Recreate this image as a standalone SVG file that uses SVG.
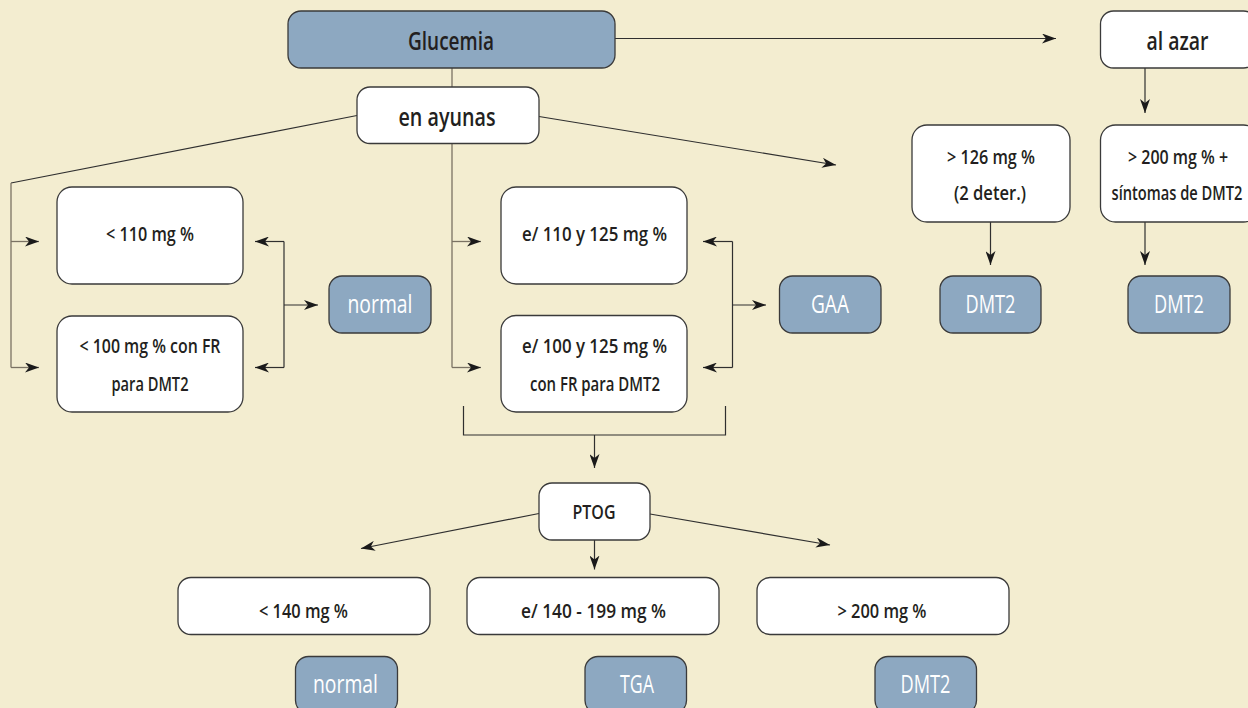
<svg xmlns="http://www.w3.org/2000/svg" width="1248" height="708" viewBox="0 0 1248 708">
<defs>
<style>
.bg{fill:#F3EDD0}
.wb{fill:#FFFFFF;stroke:#3a3a3a;stroke-width:1.3}
.bb{fill:#8DA8C1;stroke:#3a3a3a;stroke-width:1.3}
.t{font-family:"Open Sans","Liberation Sans",sans-serif;fill:#231F20;text-anchor:middle;font-weight:600}
.big{font-size:26px}
.sm{font-size:20px}
.wt{font-family:"Open Sans","Liberation Sans",sans-serif;fill:#FFFFFF;text-anchor:middle;font-size:25px}
.ln{fill:none;stroke:#2f2f2f;stroke-width:1.2}
.lg{fill:none;stroke:#7a7263;stroke-width:1.3}
.ar{marker-end:url(#ah)}
</style>
<marker id="ah" markerUnits="userSpaceOnUse" markerWidth="14" markerHeight="10" refX="14" refY="5" orient="auto">
<path d="M0,0 L14,5 L0,10 L4,5 z" fill="#1a1a1a"/>
</marker>
</defs>
<rect class="bg" x="0" y="0" width="1248" height="708"/>

<g id="connectors">
<line class="lg" x1="452" y1="68" x2="452" y2="87"/>
<line class="ln ar" x1="615" y1="38.5" x2="1056" y2="38.5"/>
<polyline class="ln" points="357,115.5 11,183"/>
<line class="lg" x1="11" y1="183" x2="11" y2="367.5"/>
<line class="lg ar" x1="11" y1="241.5" x2="39" y2="241.5"/>
<line class="lg ar" x1="11" y1="367.5" x2="39" y2="367.5"/>
<line class="ln ar" x1="539" y1="116.5" x2="836" y2="165"/>
<line class="lg" x1="452" y1="143" x2="452" y2="367.5"/>
<line class="lg ar" x1="452" y1="241.5" x2="481" y2="241.5"/>
<line class="lg ar" x1="452" y1="367.5" x2="481" y2="367.5"/>
<polyline class="ln" points="284,241.5 284,367.5"/>
<line class="ln ar" x1="284" y1="241.5" x2="255" y2="241.5"/>
<line class="ln ar" x1="284" y1="367.5" x2="255" y2="367.5"/>
<line class="ln ar" x1="284" y1="305" x2="318" y2="305"/>
<polyline class="ln" points="732.5,241.5 732.5,367.5"/>
<line class="ln ar" x1="732.5" y1="241.5" x2="703" y2="241.5"/>
<line class="ln ar" x1="732.5" y1="367.5" x2="703" y2="367.5"/>
<line class="ln ar" x1="732.5" y1="305" x2="766" y2="305"/>
<polyline class="ln" points="463.5,406 463.5,435 725.5,435 725.5,406"/>
<line class="ln ar" x1="594.5" y1="435" x2="594.5" y2="468"/>
<line class="ln ar" x1="1145" y1="68" x2="1145" y2="113"/>
<line class="ln ar" x1="990.5" y1="222" x2="990.5" y2="265"/>
<line class="ln ar" x1="1145" y1="222" x2="1145" y2="265"/>
<line class="ln ar" x1="539" y1="513.5" x2="361" y2="548.5"/>
<line class="ln ar" x1="594.5" y1="540" x2="594.5" y2="569.5"/>
<line class="ln ar" x1="650" y1="514" x2="830" y2="545"/>
</g>

<g id="glucemia">
<rect class="bb" x="288" y="11" width="327" height="57" rx="13"/>
<text class="t big" x="451" y="50" textLength="86" lengthAdjust="spacingAndGlyphs">Glucemia</text>
</g>
<g id="en-ayunas">
<rect class="wb" x="357" y="87" width="182" height="56.5" rx="13"/>
<text class="t big" x="447" y="126" textLength="97" lengthAdjust="spacingAndGlyphs">en ayunas</text>
</g>
<g id="al-azar">
<rect class="wb" x="1100.5" y="11" width="156" height="57" rx="13"/>
<text class="t big" x="1177.5" y="50" textLength="62" lengthAdjust="spacingAndGlyphs">al azar</text>
</g>

<g id="lt110">
<rect class="wb" x="57" y="187" width="186" height="97" rx="15"/>
<text class="t sm" x="150" y="241" textLength="88" lengthAdjust="spacingAndGlyphs">&lt; 110 mg %</text>
</g>
<g id="lt100">
<rect class="wb" x="57" y="316" width="186" height="96" rx="15"/>
<text class="t sm" x="150" y="353" textLength="141" lengthAdjust="spacingAndGlyphs">&lt; 100 mg % con FR</text>
<text class="t sm" x="150" y="391" textLength="77" lengthAdjust="spacingAndGlyphs">para DMT2</text>
</g>
<g id="normal1">
<rect class="bb" x="329" y="276" width="102" height="57" rx="13"/>
<text class="wt" x="380" y="313" textLength="65" lengthAdjust="spacingAndGlyphs">normal</text>
</g>

<g id="e110">
<rect class="wb" x="501" y="187" width="186" height="97" rx="15"/>
<text class="t sm" x="594.5" y="241" textLength="145" lengthAdjust="spacingAndGlyphs">e/ 110 y 125 mg %</text>
</g>
<g id="e100">
<rect class="wb" x="501" y="315.5" width="186" height="96.5" rx="15"/>
<text class="t sm" x="594.5" y="353" textLength="145" lengthAdjust="spacingAndGlyphs">e/ 100 y 125 mg %</text>
<text class="t sm" x="595" y="391" textLength="130" lengthAdjust="spacingAndGlyphs">con FR para DMT2</text>
</g>
<g id="gaa">
<rect class="bb" x="779.5" y="276" width="101.5" height="57" rx="13"/>
<text class="wt" x="830" y="313" textLength="38" lengthAdjust="spacingAndGlyphs">GAA</text>
</g>

<g id="gt126">
<rect class="wb" x="912" y="125" width="158" height="97" rx="15"/>
<text class="t sm" x="991" y="164" textLength="88" lengthAdjust="spacingAndGlyphs">&gt; 126 mg %</text>
<text class="t sm" x="990" y="200" textLength="72" lengthAdjust="spacingAndGlyphs">(2 deter.)</text>
</g>
<g id="dmt2a">
<rect class="bb" x="940" y="276" width="101" height="57" rx="13"/>
<text class="wt" x="990.5" y="313" textLength="50" lengthAdjust="spacingAndGlyphs">DMT2</text>
</g>
<g id="gt200s">
<rect class="wb" x="1100.5" y="125" width="158" height="97" rx="15"/>
<text class="t sm" x="1178" y="164" textLength="100" lengthAdjust="spacingAndGlyphs">&gt; 200 mg % +</text>
<text class="t sm" x="1177" y="200" textLength="131" lengthAdjust="spacingAndGlyphs">síntomas de DMT2</text>
</g>
<g id="dmt2b">
<rect class="bb" x="1128" y="276" width="102" height="57" rx="13"/>
<text class="wt" x="1179" y="313" textLength="50" lengthAdjust="spacingAndGlyphs">DMT2</text>
</g>

<g id="ptog">
<rect class="wb" x="539" y="483" width="111" height="57" rx="13"/>
<text class="t" font-size="19" font-weight="bold" x="594" y="518.5" textLength="43" lengthAdjust="spacingAndGlyphs">PTOG</text>
</g>
<g id="lt140">
<rect class="wb" x="178" y="577.5" width="252" height="57" rx="13"/>
<text class="t sm" x="303.5" y="618" textLength="89" lengthAdjust="spacingAndGlyphs">&lt; 140 mg %</text>
</g>
<g id="e140">
<rect class="wb" x="467" y="577.5" width="252" height="57" rx="13"/>
<text class="t sm" x="593.5" y="618" textLength="145" lengthAdjust="spacingAndGlyphs">e/ 140 - 199 mg %</text>
</g>
<g id="gt200">
<rect class="wb" x="757" y="577.5" width="252" height="57" rx="13"/>
<text class="t sm" x="882" y="618" textLength="89" lengthAdjust="spacingAndGlyphs">&gt; 200 mg %</text>
</g>
<g id="normal2">
<rect class="bb" x="295.5" y="656.5" width="102" height="57" rx="13"/>
<text class="wt" x="345.5" y="692.5" textLength="65" lengthAdjust="spacingAndGlyphs">normal</text>
</g>
<g id="tga">
<rect class="bb" x="585" y="656.5" width="101.5" height="57" rx="13"/>
<text class="wt" x="637" y="692.5" textLength="34" lengthAdjust="spacingAndGlyphs">TGA</text>
</g>
<g id="dmt2c">
<rect class="bb" x="875" y="656.5" width="101.5" height="57" rx="13"/>
<text class="wt" x="925.5" y="692.5" textLength="50" lengthAdjust="spacingAndGlyphs">DMT2</text>
</g>
</svg>
